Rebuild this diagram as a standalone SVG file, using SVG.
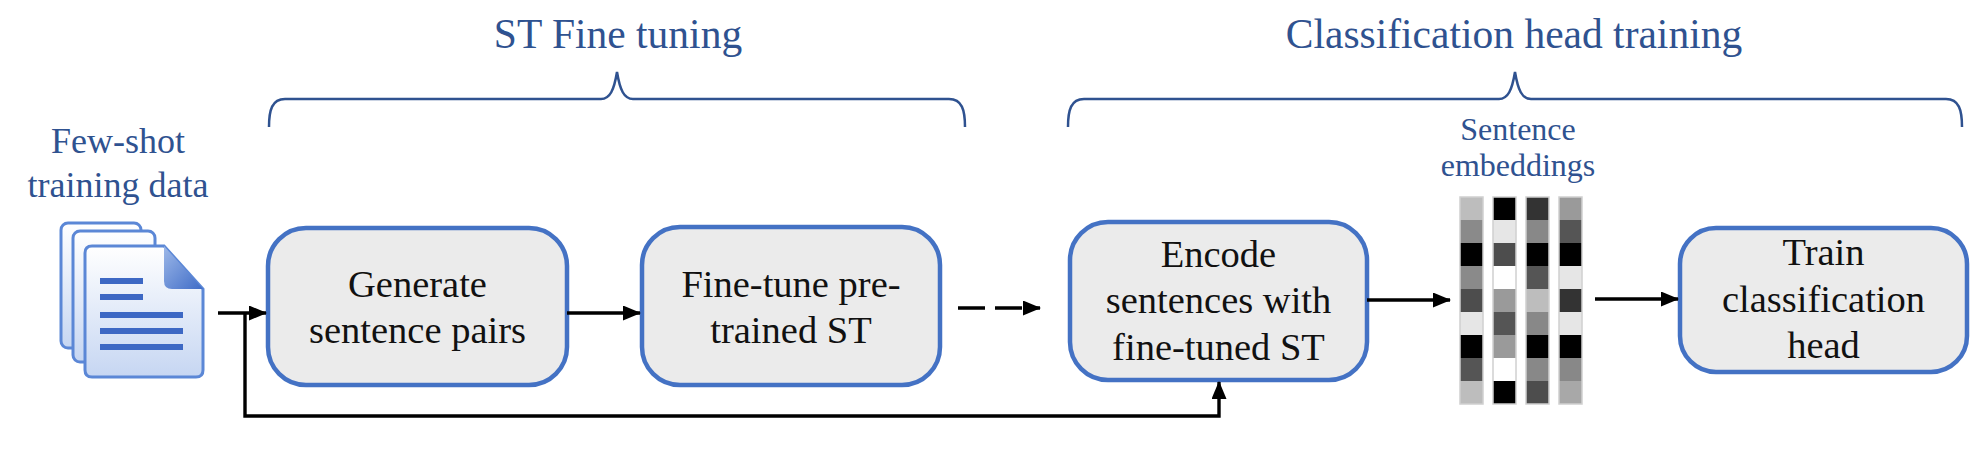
<svg xmlns="http://www.w3.org/2000/svg" width="1988" height="476" viewBox="0 0 1988 476">
<style>
.box{fill:#ebebeb;stroke:#4472c4;stroke-width:4.5}
.bt{font-family:"Liberation Serif","Times New Roman",serif;font-size:38.5px;fill:#111;text-anchor:middle}
.title{font-family:"Liberation Serif","Times New Roman",serif;font-size:41.5px;fill:#2f5290;text-anchor:middle}
.lbl{font-family:"Liberation Serif","Times New Roman",serif;font-size:36px;fill:#2f5290;text-anchor:middle}
.lbl2{font-family:"Liberation Serif","Times New Roman",serif;font-size:32px;fill:#2f5290;text-anchor:middle}
.brace{fill:none;stroke:#2f5290;stroke-width:2.5}
.con{fill:none;stroke:#000;stroke-width:3.4}
.page{stroke:#5b87d6;stroke-width:3}
.dl{stroke:#3d68c4;stroke-width:6}
</style>
<defs>
<marker id="ah" markerUnits="userSpaceOnUse" markerWidth="18" markerHeight="15" refX="17" refY="7.5" orient="auto">
<path d="M0,0 L18,7.5 L0,15 z" fill="#000"/>
</marker>
<linearGradient id="pg" x1="0" y1="0" x2="0" y2="1">
<stop offset="0" stop-color="#ffffff"/>
<stop offset="1" stop-color="#c6d6f2"/>
</linearGradient>
<linearGradient id="fold" x1="0" y1="0" x2="1" y2="1">
<stop offset="0" stop-color="#9db8e8"/>
<stop offset="1" stop-color="#3f6cc7"/>
</linearGradient>
</defs>

<g id="title-st">
<text class="title" x="618" y="48">ST Fine tuning</text>
<path class="brace" d="M269,127 C269,110 272,99 285,99 H601 C610,99 614,90 617,72 C620,90 624,99 633,99 H949 C962,99 965,110 965,127"/>
</g>
<g id="title-cls">
<text class="title" x="1514" y="48">Classification head training</text>
<path class="brace" d="M1068,127 C1068,110 1071,99 1084,99 H1499 C1508,99 1512,90 1515,72 C1518,90 1522,99 1531,99 H1946 C1959,99 1962,110 1962,127"/>
</g>

<g id="data">
<text class="lbl" x="118" y="153">Few-shot</text>
<text class="lbl" x="118" y="197">training data</text>
<rect class="page" x="61" y="223" width="80" height="125" rx="7" fill="url(#pg)"/>
<rect class="page" x="73" y="231" width="82" height="131" rx="7" fill="url(#pg)"/>
<path class="page" d="M92,246 H164 L203,289 V370 Q203,377 196,377 H92 Q85,377 85,370 V253 Q85,246 92,246 Z" fill="url(#pg)"/>
<path d="M164,246 L203,289 H172 Q164,289 164,281 Z" fill="url(#fold)"/>
<line class="dl" x1="100" y1="281" x2="143" y2="281" stroke="#7f9fdc"/>
<line class="dl" x1="100" y1="297" x2="143" y2="297" stroke="#6a8fd6"/>
<line class="dl" x1="100" y1="315" x2="183" y2="315"/>
<line class="dl" x1="100" y1="331" x2="183" y2="331"/>
<line class="dl" x1="100" y1="347" x2="183" y2="347"/>
</g>

<g id="n1">
<rect class="box" x="268" y="228" width="299" height="157" rx="38"/>
<text class="bt" x="417.5" y="297">Generate</text>
<text class="bt" x="417.5" y="343">sentence pairs</text>
</g>
<g id="n2">
<rect class="box" x="642" y="227" width="298" height="158" rx="38"/>
<text class="bt" x="791" y="297">Fine-tune pre-</text>
<text class="bt" x="791" y="343">trained ST</text>
</g>
<g id="n3">
<rect class="box" x="1070" y="222" width="297" height="158" rx="38"/>
<text class="bt" x="1218.5" y="267">Encode</text>
<text class="bt" x="1218.5" y="313">sentences with</text>
<text class="bt" x="1218.5" y="360">fine-tuned ST</text>
</g>
<g id="emb">
<text class="lbl2" x="1518" y="140">Sentence</text>
<text class="lbl2" x="1518" y="176">embeddings</text>
<g stroke="none">
<rect x="1460" y="197" width="23" height="23" fill="#bdbdbd"/>
<rect x="1460" y="220" width="23" height="23" fill="#8a8a8a"/>
<rect x="1460" y="243" width="23" height="23" fill="#000"/>
<rect x="1460" y="266" width="23" height="23" fill="#8a8a8a"/>
<rect x="1460" y="289" width="23" height="23" fill="#4d4d4d"/>
<rect x="1460" y="312" width="23" height="23" fill="#e6e6e6"/>
<rect x="1460" y="335" width="23" height="23" fill="#000"/>
<rect x="1460" y="358" width="23" height="23" fill="#555"/>
<rect x="1460" y="381" width="23" height="23" fill="#bdbdbd"/>

<rect x="1493" y="197" width="23" height="23" fill="#000"/>
<rect x="1493" y="220" width="23" height="23" fill="#e6e6e6"/>
<rect x="1493" y="243" width="23" height="23" fill="#4d4d4d"/>
<rect x="1493" y="266" width="23" height="23" fill="#fff"/>
<rect x="1493" y="289" width="23" height="23" fill="#9a9a9a"/>
<rect x="1493" y="312" width="23" height="23" fill="#555"/>
<rect x="1493" y="335" width="23" height="23" fill="#9a9a9a"/>
<rect x="1493" y="358" width="23" height="23" fill="#fff"/>
<rect x="1493" y="381" width="23" height="23" fill="#000"/>

<rect x="1526" y="197" width="23" height="23" fill="#333"/>
<rect x="1526" y="220" width="23" height="23" fill="#888"/>
<rect x="1526" y="243" width="23" height="23" fill="#000"/>
<rect x="1526" y="266" width="23" height="23" fill="#555"/>
<rect x="1526" y="289" width="23" height="23" fill="#bdbdbd"/>
<rect x="1526" y="312" width="23" height="23" fill="#888"/>
<rect x="1526" y="335" width="23" height="23" fill="#000"/>
<rect x="1526" y="358" width="23" height="23" fill="#888"/>
<rect x="1526" y="381" width="23" height="23" fill="#4d4d4d"/>

<rect x="1559" y="197" width="23" height="23" fill="#9a9a9a"/>
<rect x="1559" y="220" width="23" height="23" fill="#555"/>
<rect x="1559" y="243" width="23" height="23" fill="#000"/>
<rect x="1559" y="266" width="23" height="23" fill="#e6e6e6"/>
<rect x="1559" y="289" width="23" height="23" fill="#333"/>
<rect x="1559" y="312" width="23" height="23" fill="#e6e6e6"/>
<rect x="1559" y="335" width="23" height="23" fill="#000"/>
<rect x="1559" y="358" width="23" height="23" fill="#888"/>
<rect x="1559" y="381" width="23" height="23" fill="#a8a8a8"/>
</g>
<g fill="none" stroke="#d0d0d0" stroke-width="1.5">
<rect x="1460" y="197" width="23" height="207"/>
<rect x="1493" y="197" width="23" height="207"/>
<rect x="1526" y="197" width="23" height="207"/>
<rect x="1559" y="197" width="23" height="207"/>
</g>
</g>
<g id="n4">
<rect class="box" x="1680" y="228" width="287" height="144" rx="36"/>
<text class="bt" x="1823.5" y="265">Train</text>
<text class="bt" x="1823.5" y="312">classification</text>
<text class="bt" x="1823.5" y="358">head</text>
</g>

<g id="connectors">
<path class="con" d="M218,313 H266" marker-end="url(#ah)"/>
<path class="con" d="M567,313 H640" marker-end="url(#ah)"/>
<path class="con" d="M958,308 H1040" stroke-width="4.5" stroke-dasharray="27,10" marker-end="url(#ah)"/>
<path class="con" d="M245,313 V416 H1219 V382" marker-end="url(#ah)"/>
<path class="con" d="M1367,300 H1450" marker-end="url(#ah)"/>
<path class="con" d="M1595,299 H1678" marker-end="url(#ah)"/>
</g>
</svg>
